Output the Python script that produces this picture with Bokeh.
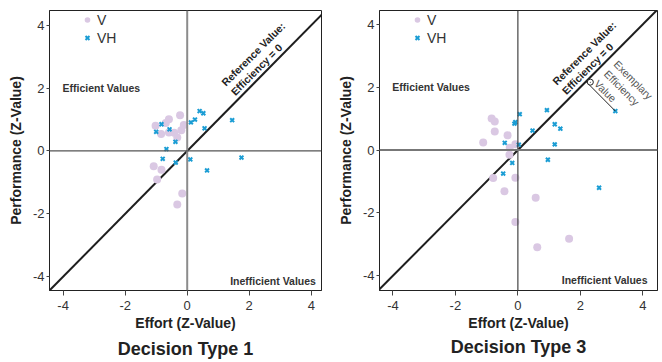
import math
from bokeh.plotting import figure
from bokeh.layouts import row
from bokeh.models import Span, Legend, LegendItem, FixedTicker, Range1d, Label
from bokeh.embed import file_html
from bokeh.resources import INLINE

# ---- data (Z-values) ----
ticks = [-4, -2, 0, 2, 4]
tick_labels = {-4: "-4", -2: "-2", 0: "0", 2: "2", 4: "4"}

# Decision Type 1
dt1_v_effort = [-1.02, -0.59, -0.69, -0.23, -0.11, -0.84, -0.59, -0.42, -0.19, -0.32,
                -1.08, -0.83, -0.97, -0.16, -0.32]
dt1_v_perf = [0.80, 1.01, 0.89, 1.14, 0.83, 0.54, 0.59, 0.58, 0.66, 0.43,
              -0.49, -0.60, -0.91, -1.35, -1.70]
dt1_vh_effort = [-0.83, -1.00, -0.57, -0.38, -0.67, -0.79, -0.37, 0.10, 0.12, 0.25,
                 0.40, 0.52, 0.56, 1.45, 1.75, 0.64]
dt1_vh_perf = [0.85, 0.61, 0.69, 0.29, 0.06, -0.25, -0.37, -0.27, 0.91, 1.00,
               1.27, 1.20, 0.72, 0.98, -0.21, -0.62]

# Decision Type 3
dt3_v_effort = [-0.84, -0.74, -0.74, -1.11, -0.33, -0.26, -0.08, -0.27, -0.79, -0.08,
                -0.43, 0.57, -0.08, 1.64, 0.62]
dt3_v_perf = [1.00, 0.91, 0.59, 0.24, 0.47, 0.07, 0.18, -0.15, -0.89, -0.88,
              -1.31, -1.52, -2.29, -2.82, -3.09]
dt3_vh_effort = [0.06, -0.08, -0.11, 0.93, 0.47, 1.18, 1.36, -0.42, 0.03, 1.18,
                 0.96, -0.18, -0.47, 2.60, 3.12]
dt3_vh_perf = [1.14, 0.89, 0.84, 1.27, 0.62, 0.82, 0.68, 0.23, 0.17, 0.18,
               -0.31, -0.41, -0.75, -1.20, 1.24]
exemplar_index = 14  # VH point used for the "Exemplary Efficiency Value" marker

V_COLOR = "#dac8e3"
VH_COLOR = "#1b9dd4"
FONT = "Liberation Sans"


def make_panel(title, v_x, v_y, vh_x, vh_y, width, borders, xr, yr, title_standoff,
               vcol, vw, hcol, hw):
    bl, br, bt, bb = borders
    p = figure(width=width, height=362, output_backend="svg", toolbar_location=None,
               x_range=Range1d(*xr), y_range=Range1d(*yr),
               min_border_left=bl, min_border_right=br,
               min_border_top=bt, min_border_bottom=bb,
               title=title, title_location="below")
    p.grid.visible = False
    p.outline_line_color = "#222222"
    p.outline_line_width = 1
    p.outline_line_alpha = 1

    p.title.align = "center"
    p.title.text_font = FONT
    p.title.text_font_size = "18px"
    p.title.text_font_style = "bold"
    p.title.text_color = "#222222"
    p.title.standoff = title_standoff

    for ax in (p.xaxis[0], p.yaxis[0]):
        ax.ticker = FixedTicker(ticks=ticks)
        ax.major_label_overrides = tick_labels
        ax.minor_tick_line_color = None
        ax.major_tick_in = 0
        ax.axis_line_color = "#222222"
        ax.major_tick_line_color = "#444444"
        ax.major_label_text_font = FONT
        ax.major_label_text_font_size = "13px"
        ax.major_label_text_color = "#333333"
        ax.axis_label_text_font = FONT
        ax.axis_label_text_font_size = "14px"
        ax.axis_label_text_font_style = "bold"
        ax.axis_label_text_color = "#222222"
    p.xaxis.major_tick_out = 5
    p.yaxis.major_tick_out = 3
    p.xaxis.major_label_standoff = 5
    p.yaxis.major_label_standoff = 2
    p.xaxis.axis_label = "Effort (Z-Value)"
    p.yaxis.axis_label = "Performance (Z-Value)"
    p.xaxis.axis_label_standoff = 2
    p.yaxis.axis_label_standoff = 6

    # reference lines
    p.add_layout(Span(location=0, dimension="height", line_color=vcol, line_width=vw))
    p.add_layout(Span(location=0, dimension="width", line_color=hcol, line_width=hw))
    p.line([-5, 5], [-5, 5], line_color="#1e1e1e", line_width=2)

    rv = p.scatter(v_x, v_y, marker="circle", size=8, fill_color=V_COLOR,
                   line_color=None)
    rvh = p.scatter(vh_x, vh_y, marker="x", size=5.5, line_color=VH_COLOR,
                    line_width=2)

    legend = Legend(items=[LegendItem(label="V", renderers=[rv]),
                           LegendItem(label="VH", renderers=[rvh])],
                    location=(31, 244), orientation="vertical",
                    padding=0, margin=0, spacing=1,
                    glyph_width=14, glyph_height=17, label_standoff=3,
                    label_text_font=FONT, label_text_font_size="14px",
                    label_text_color="#333333",
                    border_line_color=None, background_fill_alpha=0)
    p.add_layout(legend)

    p.add_layout(Label(x=-4.02, y=2.0, text="Efficient Values", text_align="left",
                       text_baseline="middle", text_font=FONT,
                       text_font_size="10.5px", text_font_style="bold",
                       text_color="#333333"))
    p.add_layout(Label(x=4.15, y=-4.15, text="Inefficient Values", text_align="right",
                       text_baseline="middle", text_font=FONT,
                       text_font_size="10.5px", text_font_style="bold",
                       text_color="#333333"))
    p.add_layout(Label(x=1.6, y=1.7, text="Reference Value:\nEfficiency = 0",
                       angle=math.pi / 4, text_align="left", text_baseline="bottom",
                       text_font=FONT, text_font_size="10.5px", text_font_style="bold",
                       text_color="#222222", text_line_height=1.1))
    return p


p1 = make_panel("Decision Type 1", dt1_v_effort, dt1_v_perf, dt1_vh_effort, dt1_vh_perf,
                333, (49, 12, 9, 70), (-4.44, 4.33), (-4.44, 4.47), 7,
                "#8c8c8c", 2, "#555555", 1.3)
p3 = make_panel("Decision Type 3", dt3_v_effort, dt3_v_perf, dt3_vh_effort, dt3_vh_perf,
                329, (46, 5, 10, 69), (-4.43, 4.47), (-4.47, 4.44), 2,
                "#444444", 1.2, "#777777", 2)

# exemplary efficiency annotation (right panel)
ex_x = dt3_vh_effort[exemplar_index]
ex_y = dt3_vh_perf[exemplar_index]
foot = (ex_x + ex_y) / 2.0
p3.line([ex_x, foot], [ex_y, foot], line_color="#222222", line_width=1)
p3.scatter([foot + 0.14], [foot - 0.02], marker="circle", size=6, fill_color="white",
           line_color="#222222", line_width=1)
p3.scatter([foot + 0.14], [foot - 0.02], marker="dot", size=4, line_color="#222222")
p3.add_layout(Label(x=3.27, y=2.93, text="Exemplary\nEfficiency\nValue",
                    angle=-math.pi / 4, text_align="left", text_baseline="top",
                    text_font=FONT, text_font_size="10.5px", text_color="#555555",
                    text_line_height=1.15))

layout = row(p1, p3, spacing=0)
open("out.html", "w").write(file_html(layout, INLINE))
